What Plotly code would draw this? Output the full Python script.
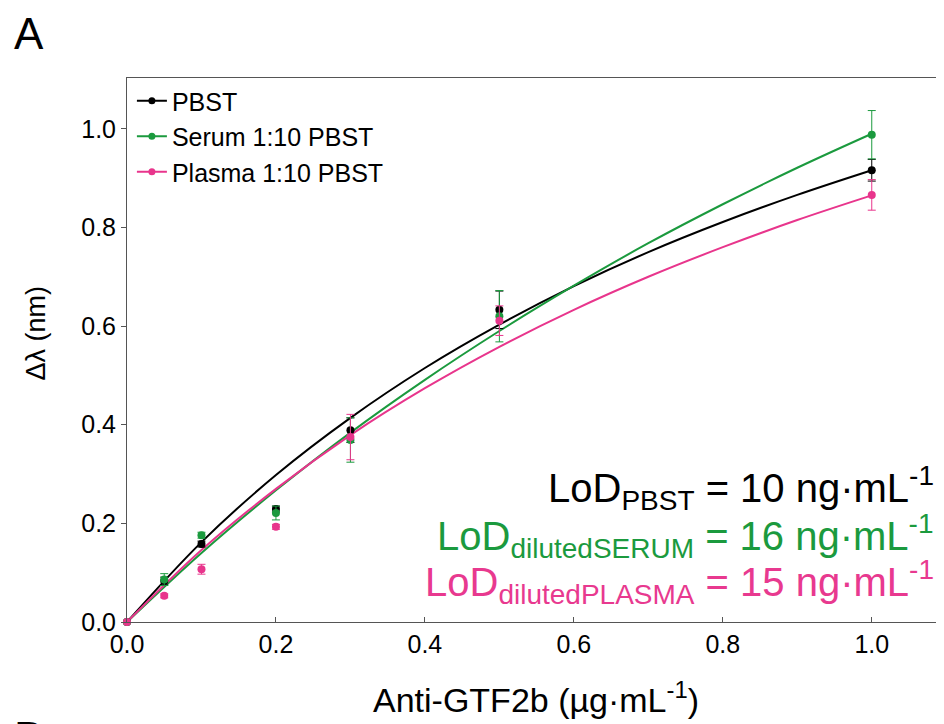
import plotly.graph_objects as go

# measured data
conc = [0.0, 0.05, 0.1, 0.2, 0.3, 0.5, 1.0]
pbst = [0.0, 0.083, 0.158, 0.229, 0.389, 0.633, 0.916]
pbst_err = [0.0, 0.008, 0.006, 0.006, 0.025, 0.038, 0.022]
serum = [0.0, 0.086, 0.176, 0.221, 0.369, 0.620, 0.988]
serum_err = [0.0, 0.012, 0.006, 0.014, 0.045, 0.052, 0.049]
plasma = [0.0, 0.053, 0.107, 0.193, 0.375, 0.611, 0.866]
plasma_err = [0.0, 0.004, 0.010, 0.005, 0.046, 0.030, 0.031]

# fitted curves
fit_x = [0.0, 0.1, 0.2, 0.3, 0.4, 0.5, 0.6, 0.7, 0.8, 0.9, 1.0]
fit_pbst = [0.0, 0.162, 0.298, 0.414, 0.515, 0.603, 0.681, 0.750, 0.811, 0.866, 0.916]
fit_serum = [0.0, 0.140, 0.267, 0.384, 0.491, 0.590, 0.682, 0.768, 0.847, 0.921, 0.990]
fit_plasma = [0.0, 0.146, 0.270, 0.379, 0.474, 0.558, 0.633, 0.700, 0.760, 0.815, 0.865]

names = ["PBST", "Serum 1:10 PBST", "Plasma 1:10 PBST"]
colors = ["#000000", "#1b9a3e", "#e8358c"]
tick_vals = [0, 0.2, 0.4, 0.6, 0.8, 1.0]
tick_text = ["0.0", "0.2", "0.4", "0.6", "0.8", "1.0"]

series = [
    (pbst, fit_pbst, pbst_err),
    (serum, fit_serum, serum_err),
    (plasma, fit_plasma, plasma_err),
]

fig = go.Figure()
for (ys, fy, err), c in zip(series, colors):
    fig.add_trace(go.Scatter(
        x=fit_x, y=fy, mode="lines", line=dict(color=c, width=2, shape="spline"),
        showlegend=False, hoverinfo="skip", cliponaxis=False))
for (ys, fy, err), name, c in zip(series, names, colors):
    fig.add_trace(go.Scatter(
        x=conc, y=ys, mode="markers", name=name, showlegend=False,
        marker=dict(color=c, size=8),
        error_y=dict(type="data", array=err, color=c, thickness=1, width=4),
        cliponaxis=False))
# legend entries: line with marker
for name, c in zip(names, colors):
    fig.add_trace(go.Scatter(
        x=[None], y=[None], mode="lines+markers", name=name,
        line=dict(color=c, width=2), marker=dict(color=c, size=7)))

# page body has an 8px margin: figure is 936x716 placed at (8, 8)
fig.update_layout(
    width=936, height=716,
    margin=dict(l=119, r=0, t=70, b=102),
    paper_bgcolor="white", plot_bgcolor="white",
    font=dict(family="Liberation Sans, Arial, sans-serif", color="black", size=25),
    legend=dict(x=0.006, y=1.0, xanchor="left", yanchor="top",
                font=dict(size=25), bgcolor="rgba(0,0,0,0)", itemwidth=30,
                tracegroupgap=0),
    xaxis=dict(range=[0, 1.097], showgrid=False, zeroline=False, automargin=False,
               showline=True, linecolor="#555555", linewidth=1, mirror=True,
               ticks="inside", ticklen=5, tickcolor="#555555",
               tickvals=tick_vals, ticktext=tick_text, tickfont=dict(size=25)),
    yaxis=dict(range=[0, 1.103], showgrid=False, zeroline=False, automargin=False,
               showline=True, linecolor="#555555", linewidth=1,
               ticks="outside", ticklen=5, tickcolor="#555555",
               tickvals=tick_vals, ticktext=tick_text, tickfont=dict(size=25)),
)

# axis titles
fig.add_annotation(x=0.5, y=-0.138, xref="paper", yref="paper",
                   text="Anti-GTF2b (µg·mL<sup>-1</sup>)", showarrow=False,
                   xanchor="center", yanchor="middle", font=dict(size=34))
fig.add_annotation(x=-0.111, y=0.531, xref="paper", yref="paper",
                   text="Δλ (nm)", showarrow=False, textangle=-90,
                   xanchor="center", yanchor="middle", font=dict(size=27))

lod = [
    ("LoD<sub>PBST</sub> = 10 ng·mL<sup>-1</sup>", colors[0], 0.247),
    ("LoD<sub>dilutedSERUM</sub> = 16 ng·mL<sup>-1</sup>", colors[1], 0.159),
    ("LoD<sub>dilutedPLASMA</sub> = 15 ng·mL<sup>-1</sup>", "#e8398f", 0.074),
]
for txt, c, yy in lod:
    fig.add_annotation(x=0.99, y=yy, xref="paper", yref="paper", text=txt,
                       showarrow=False, xanchor="right", yanchor="middle",
                       font=dict(size=40, color=c))

fig.add_annotation(x=-0.12, y=1.082, xref="paper", yref="paper", text="A",
                   showarrow=False, xanchor="center", yanchor="middle", font=dict(size=44))
fig.add_annotation(x=-0.12, y=-0.163, xref="paper", yref="paper", text="B",
                   showarrow=False, xanchor="center", yanchor="top", font=dict(size=44))

fig.write_html("out.html")
